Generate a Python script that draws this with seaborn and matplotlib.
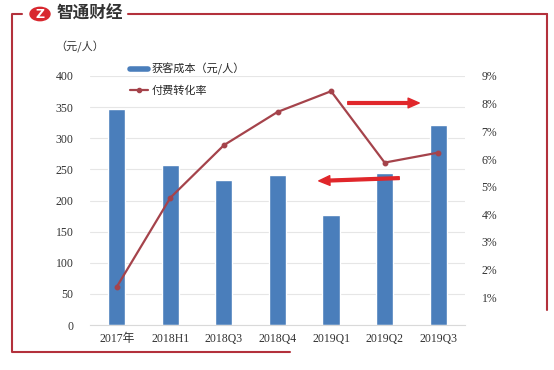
import numpy as np
import pandas as pd
import seaborn as sns
import matplotlib.pyplot as plt
from matplotlib.lines import Line2D
from matplotlib.patches import Circle, FancyArrowPatch

periods = ['2017年', '2018H1', '2018Q3', '2018Q4', '2019Q1', '2019Q2', '2019Q3']
cost = [347, 257, 233, 241, 177, 244, 321]
rate = [1.38, 4.6, 6.5, 7.7, 8.45, 5.87, 6.23]
left_ticks = [0, 50, 100, 150, 200, 250, 300, 350, 400]
right_ticks = [1, 2, 3, 4, 5, 6, 7, 8, 9]

bar_color = '#4A7EBB'
line_color = '#A5434B'
frame_color = '#B3313C'

sns.set_style('white')
plt.rcParams['font.family'] = ['Liberation Serif', 'Noto Sans CJK SC', 'DejaVu Sans']

df = pd.DataFrame({'period': periods, 'cost': cost, 'rate': rate})

fig = plt.figure(figsize=(5.54, 3.70), dpi=100)
W, H = 554, 370
ax = fig.add_axes([90 / W, 1 - 325 / H, 375 / W, 249 / H])

sns.barplot(data=df, x='period', y='cost', ax=ax, color=bar_color,
            width=0.32, saturation=1)
ax.set_xlim(-0.5, 6.5)
ax.set_ylim(0, 400)
ax.set_yticks(left_ticks)
ax.yaxis.grid(True, color='#E6E6E6', linewidth=0.8)
ax.set_axisbelow(True)
ax.set_xlabel('')
ax.set_ylabel('')
for s in ax.spines.values():
    s.set_visible(False)
ax.spines['bottom'].set_visible(True)
ax.spines['bottom'].set_color('#D9D9D9')
ax.tick_params(axis='both', length=0, labelsize=8.5, colors='#333333')
ax.tick_params(axis='y', pad=12)
ax.tick_params(axis='x', pad=6)

ax2 = ax.twinx()
sns.pointplot(data=df, x='period', y='rate', ax=ax2, color=line_color,
              markers='o', markersize=3, linewidth=1.6)
ax2.set_ylim(0, 9)
ax2.set_yticks(right_ticks)
ax2.set_yticklabels([f'{t}%' for t in right_ticks])
ax2.set_xlim(-0.5, 6.5)
ax2.set_ylabel('')
for s in ax2.spines.values():
    s.set_visible(False)
ax2.tick_params(axis='y', length=0, labelsize=8.5, colors='#333333', pad=12)

# unit label
fig.text(55 / W, 1 - 47 / H, '（元/人）', fontsize=8, color='#333333',
         family=['Noto Sans CJK SC', 'DejaVu Sans'], va='center')

# legend
handles = [Line2D([], [], color=bar_color, linewidth=4),
           Line2D([], [], color=line_color, linewidth=1.6, marker='o', markersize=3)]
fig.legend(handles, ['获客成本（元/人）', '付费转化率'], loc='upper left',
           bbox_to_anchor=(120 / W, 1 - 53 / H), frameon=False,
           prop={'family': ['Noto Sans CJK SC', 'DejaVu Sans'], 'size': 8},
           handlelength=1.6, handletextpad=0.3, labelspacing=0.9)

# red arrows
arrow_style = 'simple,head_length=8,head_width=7,tail_width=2'
fig.add_artist(FancyArrowPatch((345 / W, 1 - 103 / H), (422 / W, 1 - 103 / H),
                               transform=fig.transFigure, arrowstyle=arrow_style,
                               color='#E0262A'))
fig.add_artist(FancyArrowPatch((402 / W, 1 - 178 / H), (316 / W, 1 - 181 / H),
                               transform=fig.transFigure, arrowstyle=arrow_style,
                               color='#E0262A'))

# frame and logo
fig.add_artist(Line2D([128 / W, 547 / W], [1 - 14 / H, 1 - 14 / H], color=frame_color, lw=1.5))
fig.add_artist(Line2D([547 / W, 547 / W], [1 - 14 / H, 1 - 310 / H], color=frame_color, lw=1.5))
fig.add_artist(Line2D([22 / W, 12 / W, 12 / W, 290 / W],
                      [1 - 14 / H, 1 - 14 / H, 1 - 352 / H, 1 - 352 / H], color=frame_color, lw=1.5))
fig.add_artist(Circle((40 / W, 1 - 14 / H), 10 / W, transform=fig.transFigure,
                      color='#D8282F'))
fig.text(40 / W, 1 - 14 / H, 'Z', color='white', fontsize=9, fontweight='bold',
         ha='center', va='center', family='DejaVu Sans')
fig.text(56 / W, 1 - 14 / H, '智通财经', fontsize=12, fontweight='bold', color='#333333',
         family=['Noto Sans CJK SC', 'DejaVu Sans'], va='center')

fig.savefig('out.png', dpi=100)
